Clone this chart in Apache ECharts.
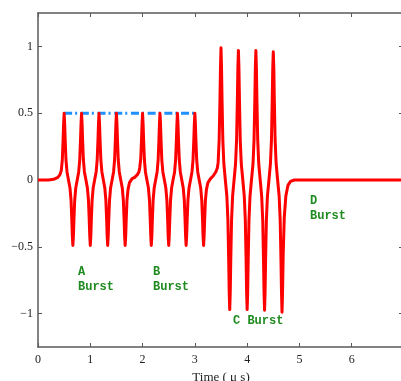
<!DOCTYPE html>
<html>
<head>
<meta charset="utf-8">
<script src="https://cdn.jsdelivr.net/npm/echarts@6/dist/echarts.min.js"></script>
<style>html,body{margin:0;padding:0;background:#fff}#c{width:401px;height:381px}</style>
</head>
<body>
<div id="c"></div>
<script>
// Time axis (µs) and waveform amplitude
var timeUs = [
  0, 0.2, 0.3, 0.38, 0.42, 0.445, 0.465, 0.48, 0.49,
  0.5, 0.51, 0.52, 0.535, 0.555, 0.583, 0.612, 0.632, 0.647, 0.657,
  0.667, 0.677, 0.687, 0.702, 0.722, 0.75, 0.778, 0.798, 0.813, 0.823,
  0.833, 0.843, 0.853, 0.868, 0.888, 0.917, 0.945, 0.965, 0.98, 0.99,
  1.0, 1.01, 1.02, 1.035, 1.055, 1.083, 1.112, 1.132, 1.147, 1.157,
  1.167, 1.177, 1.187, 1.202, 1.222, 1.25, 1.278, 1.298, 1.313, 1.323,
  1.333, 1.343, 1.353, 1.368, 1.388, 1.417, 1.445, 1.465, 1.48, 1.49,
  1.5, 1.51, 1.52, 1.535, 1.555, 1.583, 1.612, 1.632, 1.647, 1.657,
  1.667, 1.677, 1.687, 1.702, 1.722, 1.75, 1.8, 1.85, 1.9, 1.93, 1.945, 1.965, 1.98, 1.99,
  2.0, 2.01, 2.02, 2.035, 2.055, 2.083, 2.112, 2.132, 2.147, 2.157,
  2.167, 2.177, 2.187, 2.202, 2.222, 2.25, 2.278, 2.298, 2.313, 2.323,
  2.333, 2.343, 2.353, 2.368, 2.388, 2.417, 2.445, 2.465, 2.48, 2.49,
  2.5, 2.51, 2.52, 2.535, 2.555, 2.583, 2.612, 2.632, 2.647, 2.657,
  2.667, 2.677, 2.687, 2.702, 2.722, 2.75, 2.778, 2.798, 2.813, 2.823,
  2.833, 2.843, 2.853, 2.868, 2.888, 2.917, 2.945, 2.965, 2.98, 2.99,
  3.0, 3.01, 3.02, 3.035, 3.055, 3.083, 3.112, 3.132, 3.147, 3.157,
  3.167, 3.177, 3.187, 3.202, 3.222, 3.25, 3.3, 3.35, 3.4, 3.43, 3.445, 3.465, 3.48, 3.49,
  3.5, 3.51, 3.52, 3.535, 3.555, 3.583, 3.612, 3.632, 3.647, 3.657,
  3.667, 3.677, 3.687, 3.702, 3.722, 3.75, 3.778, 3.798, 3.813, 3.823,
  3.833, 3.843, 3.853, 3.868, 3.888, 3.917, 3.945, 3.965, 3.98, 3.99,
  4.0, 4.01, 4.02, 4.035, 4.055, 4.083, 4.112, 4.132, 4.147, 4.157,
  4.167, 4.177, 4.187, 4.202, 4.222, 4.25, 4.278, 4.298, 4.313, 4.323,
  4.333, 4.343, 4.353, 4.368, 4.388, 4.417, 4.445, 4.465, 4.48, 4.49,
  4.5, 4.51, 4.52, 4.535, 4.555, 4.583, 4.612, 4.632, 4.647, 4.657,
  4.667, 4.677, 4.69, 4.71, 4.74, 4.78, 4.83, 4.9, 5.5, 7
];
var amplitude = [
  0, 0, 0.005, 0.02, 0.04, 0.07, 0.15, 0.30, 0.42,
  0.5, 0.42, 0.30, 0.15, 0.06, 0, -0.06, -0.15, -0.30, -0.42,
  -0.49, -0.42, -0.30, -0.15, -0.06, 0, 0.06, 0.15, 0.30, 0.42,
  0.5, 0.42, 0.30, 0.15, 0.06, 0, -0.06, -0.15, -0.30, -0.42,
  -0.49, -0.42, -0.30, -0.15, -0.06, 0, 0.06, 0.15, 0.30, 0.42,
  0.5, 0.42, 0.30, 0.15, 0.06, 0, -0.06, -0.15, -0.30, -0.42,
  -0.49, -0.42, -0.30, -0.15, -0.06, 0, 0.06, 0.15, 0.30, 0.42,
  0.5, 0.42, 0.30, 0.15, 0.06, 0, -0.06, -0.15, -0.30, -0.42,
  -0.49, -0.42, -0.30, -0.15, -0.07, -0.02, 0.01, 0.02, 0.04, 0.06, 0.09, 0.16, 0.30, 0.42,
  0.5, 0.42, 0.30, 0.15, 0.06, 0, -0.06, -0.15, -0.30, -0.42,
  -0.49, -0.42, -0.30, -0.15, -0.06, 0, 0.06, 0.15, 0.30, 0.42,
  0.5, 0.42, 0.30, 0.15, 0.06, 0, -0.06, -0.15, -0.30, -0.42,
  -0.49, -0.42, -0.30, -0.15, -0.06, 0, 0.06, 0.15, 0.30, 0.42,
  0.5, 0.42, 0.30, 0.15, 0.06, 0, -0.06, -0.15, -0.30, -0.42,
  -0.49, -0.42, -0.30, -0.15, -0.06, 0, 0.06, 0.15, 0.30, 0.42,
  0.5, 0.42, 0.30, 0.15, 0.06, 0, -0.06, -0.15, -0.30, -0.42,
  -0.49, -0.42, -0.30, -0.15, -0.07, -0.02, 0.01, 0.03, 0.06, 0.09, 0.13, 0.30, 0.60, 0.84,
  0.99, 0.84, 0.60, 0.30, 0.12, 0, -0.12, -0.30, -0.60, -0.84,
  -0.97, -0.84, -0.60, -0.30, -0.12, 0, 0.12, 0.30, 0.60, 0.84,
  0.97, 0.84, 0.60, 0.30, 0.12, 0, -0.12, -0.30, -0.60, -0.84,
  -0.97, -0.84, -0.60, -0.30, -0.12, 0, 0.12, 0.30, 0.60, 0.84,
  0.97, 0.84, 0.60, 0.30, 0.12, 0, -0.12, -0.30, -0.60, -0.84,
  -0.975, -0.84, -0.60, -0.30, -0.12, 0, 0.12, 0.30, 0.60, 0.84,
  0.96, 0.84, 0.60, 0.30, 0.12, 0, -0.12, -0.30, -0.60, -0.84,
  -0.99, -0.84, -0.55, -0.28, -0.12, -0.04, -0.01, 0, 0, 0
];
// Blue dash-dot reference level
var levelTimes = [0.5, 3.0];
var levelValues = [0.5, 0.5];
// Axis ticks
var xTicks = [0, 1, 2, 3, 4, 5, 6];
var yTicks = [-1, -0.5, 0, 0.5, 1];
// Annotations
var burstLabels = ['A\nBurst', 'B\nBurst', 'C Burst', 'D\nBurst'];

var wave = timeUs.map(function (t, i) { return [t, amplitude[i]]; });
var level = levelTimes.map(function (t, i) { return [t, levelValues[i]]; });

var axisColor = '#5a5a5a';
var serif = 'Liberation Serif';
var chart = echarts.init(document.getElementById('c'), null, { renderer: 'canvas' });
var minus = function (v) { return String(v).replace('-', '\u2212'); };
var lineOpt = { show: true, onZero: false, lineStyle: { color: axisColor, width: 1.5 } };

chart.setOption({
  animation: false,
  backgroundColor: '#ffffff',
  grid: { left: 38, top: 13, width: 366, height: 334, outerBoundsMode: 'none', containLabel: false },
  xAxis: [{
    type: 'value', min: 0, max: 7, interval: 1, position: 'bottom',
    name: 'Time ( \u03bc s)', nameLocation: 'middle', nameGap: 18,
    nameTextStyle: { fontFamily: serif, fontSize: 13, color: '#222' },
    axisLine: lineOpt,
    axisTick: { show: true, inside: true, length: 4, lineStyle: { color: axisColor }, customValues: xTicks },
    axisLabel: { fontFamily: serif, fontSize: 12, color: '#222', margin: 7, customValues: xTicks },
    splitLine: { show: false }
  }, {
    type: 'value', min: 0, max: 7, interval: 1, position: 'top',
    axisLine: lineOpt,
    axisTick: { show: true, inside: true, length: 4, lineStyle: { color: axisColor }, customValues: xTicks },
    axisLabel: { show: false },
    splitLine: { show: false }
  }],
  yAxis: [{
    type: 'value', min: -1.25, max: 1.25, position: 'left',
    axisLine: lineOpt,
    axisTick: { show: true, inside: true, length: 4, lineStyle: { color: axisColor }, customValues: yTicks },
    axisLabel: { fontFamily: serif, fontSize: 12, color: '#222', margin: 5, customValues: yTicks, formatter: minus },
    splitLine: { show: false }
  }, {
    type: 'value', min: -1.25, max: 1.25, position: 'right',
    axisLine: lineOpt,
    axisTick: { show: true, inside: true, length: 5, lineStyle: { color: axisColor }, customValues: yTicks },
    axisLabel: { show: false },
    splitLine: { show: false }
  }],
  series: [{
    type: 'line', data: level, xAxisIndex: 0, yAxisIndex: 0,
    showSymbol: false, symbol: 'none', z: 2,
    lineStyle: { color: '#1e90ff', width: 3, type: [8, 3, 2, 3.7] }
  }, {
    type: 'line', data: wave, xAxisIndex: 0, yAxisIndex: 0,
    showSymbol: false, symbol: 'none', z: 3,
    lineStyle: { color: '#ff0000', width: 3, join: 'round' }
  }],
  graphic: [
    { type: 'text', left: 78, top: 264, style: { text: burstLabels[0], font: 'bold 12px "Liberation Mono"', fill: '#1f8a1f', lineHeight: 15 } },
    { type: 'text', left: 153, top: 264, style: { text: burstLabels[1], font: 'bold 12px "Liberation Mono"', fill: '#1f8a1f', lineHeight: 15 } },
    { type: 'text', left: 233, top: 313, style: { text: burstLabels[2], font: 'bold 12px "Liberation Mono"', fill: '#1f8a1f', lineHeight: 15 } },
    { type: 'text', left: 310, top: 193, style: { text: burstLabels[3], font: 'bold 12px "Liberation Mono"', fill: '#1f8a1f', lineHeight: 15 } }
  ]
});
</script>
</body>
</html>
